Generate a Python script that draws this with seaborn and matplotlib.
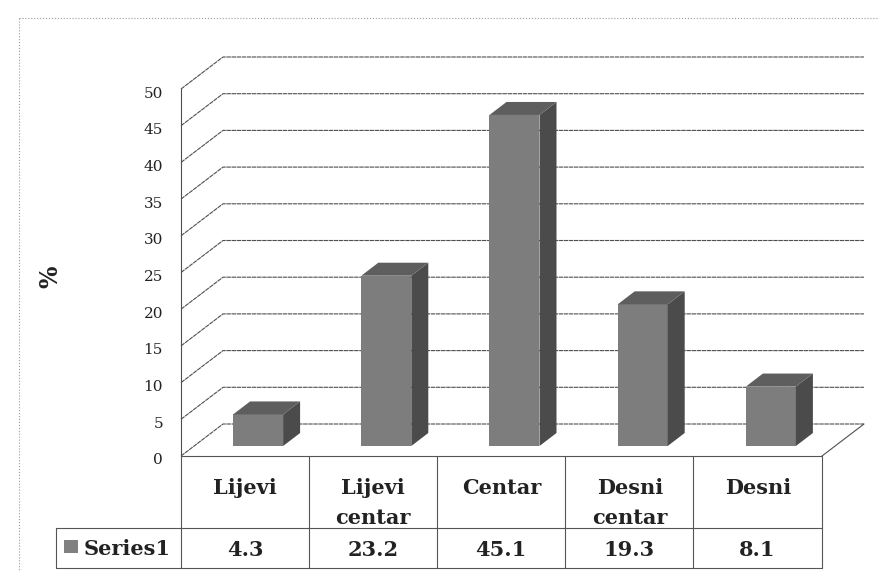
import matplotlib
matplotlib.use('Agg')
import matplotlib.pyplot as plt
from matplotlib.lines import Line2D
from matplotlib.patches import Polygon, Rectangle
from matplotlib.transforms import ScaledTranslation
import seaborn as sns

categories = ['Lijevi', 'Lijevi\ncentar', 'Centar', 'Desni\ncentar', 'Desni']
values = [4.3, 23.2, 45.1, 19.3, 8.1]
value_labels = ['4.3', '23.2', '45.1', '19.3', '8.1']
y_ticks = [0, 5, 10, 15, 20, 25, 30, 35, 40, 45, 50]
series_name = 'Series1'

W, H = 879, 571
sns.set_style('white')
plt.rcParams['font.family'] = ['DejaVu Serif']

fig = plt.figure(figsize=(W / 100, H / 100), dpi=100)
ax = fig.add_axes([181 / W, (H - 456) / H, 641 / W, 367 / H])
ax.patch.set_alpha(0)

sns.barplot(x=categories, y=values, color='#7d7d7d', saturation=1, width=50 / 128.2, linewidth=0, ax=ax)
ax.set_xlim(-0.5, 4.5)
ax.set_ylim(0, 50)

# pixel sizes turned into data units, for the fake 3d depth
ux = 1 / 128.2
uy = 1 / 7.34
wall_dx, wall_dy = 42 * ux, 32 * uy
bar_dx, bar_dy = 17 * ux, 13 * uy
shift_x = 13 * ux

# back wall grid
grid_col = '#4f4f4f'
for t in y_ticks:
    x0, x1 = -0.5, -0.5 + wall_dx
    y1 = t + wall_dy
    ax.plot([x0, x1, 4.5 + wall_dx], [t, y1, y1], color=grid_col, lw=0.8, ls=(0, (4, 0.6)), clip_on=False, zorder=1)
# floor right edge
ax.plot([4.5, 4.5 + wall_dx], [0, wall_dy], color=grid_col, lw=0.8, clip_on=False, zorder=1)

# lift bars off the front edge of the floor
lift = ax.transData + ScaledTranslation(0, 10 / 100, fig.dpi_scale_trans)

# bars: shift the front face and add side and top
for bar in list(ax.patches):
    bar.set_x(bar.get_x() + shift_x)
    bar.set_transform(lift)
    bar.set_zorder(3)
    bar.set_clip_on(False)
    bx, bw, bh = bar.get_x(), bar.get_width(), bar.get_height()
    ax.add_patch(Polygon([(bx + bw, 0), (bx + bw + bar_dx, bar_dy), (bx + bw + bar_dx, bh + bar_dy), (bx + bw, bh)],
                         facecolor='#4b4b4b', clip_on=False, zorder=3, lw=0, transform=lift))
    ax.add_patch(Polygon([(bx, bh), (bx + bar_dx, bh + bar_dy), (bx + bw + bar_dx, bh + bar_dy), (bx + bw, bh)],
                         facecolor='#5e5e5e', clip_on=False, zorder=3, lw=0, transform=lift))

for s in ['top', 'right', 'bottom']:
    ax.spines[s].set_visible(False)
ax.spines['left'].set_color(grid_col)
ax.spines['left'].set_linewidth(0.8)
ax.set_yticks(y_ticks)
ax.tick_params(axis='y', length=0, pad=13, labelsize=11, labelcolor='#222222')
down = ScaledTranslation(0, -3 / 100, fig.dpi_scale_trans)
for lab in ax.get_yticklabels():
    lab.set_transform(lab.get_transform() + down)
ax.set_xticks(range(len(categories)))
ax.set_xticklabels(categories, fontsize=15, fontweight='bold', color='#222222', linespacing=1.62, va='top')
ax.tick_params(axis='x', length=0, pad=16)
ax.set_xlabel('')
ax.set_ylabel('%', fontsize=17, fontweight='bold', color='#222222', labelpad=0)
ax.yaxis.set_label_coords((62 - 181) / 641, (456 - 277) / 367)


def px_line(xs, ys, col='#555555', lw=0.8, ls='-', z=1):
    fig.add_artist(Line2D([x / W for x in xs], [1 - y / H for y in ys], color=col, lw=lw, ls=ls, zorder=z))


# table background below the header row cuts the label tails
fig.patches.append(Rectangle((56 / W, 1 - 568 / H), 766 / W, 39 / H, transform=fig.transFigure,
                             facecolor='white', edgecolor='none', figure=fig, zorder=4))

# data table
col_x = [181, 309, 437, 565, 693, 822]
px_line([56, 56], [528, 568], z=5)
px_line([181, 822], [456, 456])
for x in col_x:
    px_line([x, x], [456, 568], z=5)

fig.patches.append(Rectangle((64 / W, 1 - 553 / H), 14 / W, 13 / H, transform=fig.transFigure,
                             facecolor='#808080', edgecolor='none', figure=fig, zorder=6))
fig.text(84 / W, 1 - 549 / H, series_name, fontsize=15, fontweight='bold', color='#222222', va='center', zorder=6)
for i, lab in enumerate(value_labels):
    xc = (col_x[i] + col_x[i + 1]) / 2
    fig.text(xc / W, 1 - 550 / H, lab, fontsize=15, fontweight='bold', color='#222222', ha='center', va='center', zorder=6)

# drawn over the tick labels, the second line of two line labels is cut by it in the scan
px_line([56, 822], [528, 528], z=5)
px_line([56, 822], [568, 568], z=5)

# chart outer frame, scanned as a faint dotted line
px_line([19, 19], [18, 571], col='#9a9a9a', lw=0.8, ls=':')
px_line([19, 879], [18, 18], col='#9a9a9a', lw=0.8, ls=':')

fig.savefig('out.png', dpi=100)
